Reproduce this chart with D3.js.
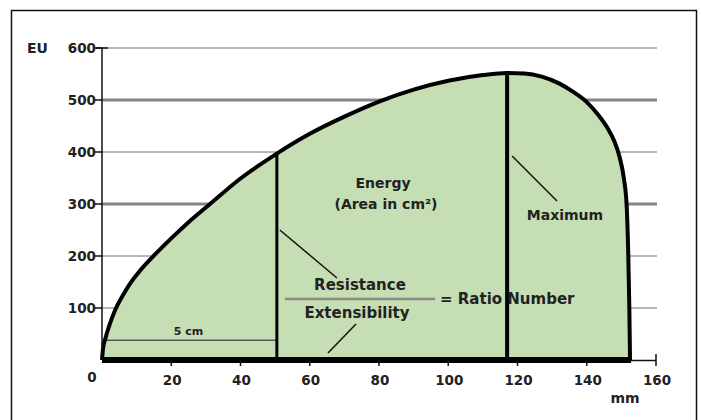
<!DOCTYPE html>
<html>
<head>
<meta charset="utf-8">
<script src="https://cdn.jsdelivr.net/npm/d3@7"></script>
<style>
  body { margin: 0; background: #fff; }
  svg text { font-family: "DejaVu Sans", "Liberation Sans", sans-serif; font-weight: bold; fill: #222; }
</style>
</head>
<body>
<div id="chart-container"></div>
<script>
// extensogram curve: extension (mm) vs resistance (EU)
var CURVE_MM = [0, 0.3, 1, 2, 3.8, 6, 8.1, 11, 15.3, 20, 25, 31.2, 40, 50.5, 60, 70, 80, 90, 100, 110, 117, 122, 127, 132, 136, 140, 143, 146, 148, 149.5, 150.7, 151.5, 152, 152.3, 152.5];
var CURVE_EU = [0, 22, 42, 64, 96, 124, 147, 172, 203, 234, 265, 300, 349, 397, 435, 468, 497, 520, 537, 548, 552, 551, 545, 532, 516, 496, 474, 446, 420, 390, 350, 300, 200, 100, 0];
// y axis ticks
var Y_TICKS = [0, 100, 200, 300, 400, 500, 600];
var Y_THICK = [500, 300];
// x axis ticks
var X_TICKS = [0, 20, 40, 60, 80, 100, 120, 140, 160];
// marker lines
var RESIST_MM = 50.5, RESIST_EU = 397;
var MAX_MM = 117, MAX_EU = 552;
var FIVE_CM_EU = 38;

function drawChart() {
    var svg = d3.select("#chart-container")
        .append("svg")
        .attr("width", 701)
        .attr("height", 420);

    // frame
    svg.append("rect")
        .attr("x", 11.5).attr("y", 10.5)
        .attr("width", 685).attr("height", 430)
        .attr("fill", "none").attr("stroke", "#111").attr("stroke-width", 1.5);

    var x = d3.scaleLinear().domain([0, 160]).range([102, 656]);
    var y = d3.scaleLinear().domain([0, 600]).range([360, 48]);

    // grid lines
    svg.append("g")
        .selectAll("line")
        .data(Y_TICKS.filter(function (d) { return d > 0; }))
        .enter()
        .append("line")
        .attr("x1", x(0)).attr("x2", 657)
        .attr("y1", function (d) { return y(d); })
        .attr("y2", function (d) { return y(d); })
        .attr("stroke", function (d) { return Y_THICK.indexOf(d) >= 0 ? "#8a8484" : "#a29e9e"; })
        .attr("stroke-width", function (d) { return Y_THICK.indexOf(d) >= 0 ? 3 : 1.5; });

    var pts = CURVE_MM.map(function (m, i) { return [m, CURVE_EU[i]]; });

    // filled area
    var area = d3.area()
        .x(function (d) { return x(d[0]); })
        .y0(y(0))
        .y1(function (d) { return y(d[1]); })
        .curve(d3.curveMonotoneX);
    svg.append("path")
        .datum(pts)
        .attr("d", area)
        .attr("fill", "#c6deb4");

    // 5 cm line
    svg.append("line")
        .attr("x1", x(1)).attr("x2", x(RESIST_MM))
        .attr("y1", y(FIVE_CM_EU)).attr("y2", y(FIVE_CM_EU))
        .attr("stroke", "#555").attr("stroke-width", 1.5);
    svg.append("text")
        .attr("x", x(25)).attr("y", y(FIVE_CM_EU) - 5)
        .attr("text-anchor", "middle").attr("font-size", "11px")
        .text("5 cm");

    // vertical marker lines
    svg.append("line")
        .attr("x1", x(RESIST_MM)).attr("x2", x(RESIST_MM))
        .attr("y1", y(0)).attr("y2", y(RESIST_EU))
        .attr("stroke", "#000").attr("stroke-width", 3);
    svg.append("line")
        .attr("x1", x(MAX_MM)).attr("x2", x(MAX_MM))
        .attr("y1", y(0)).attr("y2", y(MAX_EU))
        .attr("stroke", "#000").attr("stroke-width", 4);

    // curve outline
    var line = d3.line()
        .x(function (d) { return x(d[0]); })
        .y(function (d) { return y(d[1]); })
        .curve(d3.curveMonotoneX);
    svg.append("path")
        .datum(pts)
        .attr("d", line)
        .attr("fill", "none")
        .attr("stroke", "#000")
        .attr("stroke-width", 4)
        .attr("stroke-linejoin", "round");

    // y axis
    svg.append("line")
        .attr("x1", x(0)).attr("x2", x(0))
        .attr("y1", y(600)).attr("y2", y(0))
        .attr("stroke", "#111").attr("stroke-width", 1.5);
    svg.append("line")
        .attr("x1", x(0) - 6).attr("x2", x(0) + 6)
        .attr("y1", y(600)).attr("y2", y(600))
        .attr("stroke", "#111").attr("stroke-width", 1.5);
    svg.append("g").selectAll("line")
        .data(Y_TICKS.filter(function (d) { return d > 0; }))
        .enter().append("line")
        .attr("x1", x(0) - 7).attr("x2", x(0))
        .attr("y1", function (d) { return y(d); })
        .attr("y2", function (d) { return y(d); })
        .attr("stroke", "#111").attr("stroke-width", 1.5);
    svg.append("g").selectAll("text")
        .data(Y_TICKS.filter(function (d) { return d > 0; }))
        .enter().append("text")
        .attr("x", x(0) - 6)
        .attr("y", function (d) { return y(d) + 5; })
        .attr("text-anchor", "end").attr("font-size", "13.5px")
        .text(function (d) { return d; });
    svg.append("text")
        .attr("x", 27).attr("y", y(600) + 5)
        .attr("font-size", "14px").text("EU");

    // x axis
    svg.append("line")
        .attr("x1", x(0)).attr("x2", x(160))
        .attr("y1", y(0) + 0.5).attr("y2", y(0) + 0.5)
        .attr("stroke", "#111").attr("stroke-width", 1.5);
    svg.append("line")
        .attr("x1", x(0)).attr("x2", x(152.8))
        .attr("y1", y(0)).attr("y2", y(0))
        .attr("stroke", "#000").attr("stroke-width", 6);
    svg.append("line")
        .attr("x1", x(160)).attr("x2", x(160))
        .attr("y1", y(0) - 6).attr("y2", y(0) + 6)
        .attr("stroke", "#111").attr("stroke-width", 1.5);
    svg.append("g").selectAll("line")
        .data(X_TICKS.filter(function (d) { return d > 0 && d < 160; }))
        .enter().append("line")
        .attr("x1", function (d) { return x(d); })
        .attr("x2", function (d) { return x(d); })
        .attr("y1", y(0)).attr("y2", y(0) + 6)
        .attr("stroke", "#111").attr("stroke-width", 1.5);
    svg.append("g").selectAll("text")
        .data(X_TICKS)
        .enter().append("text")
        .attr("x", function (d) { return d === 0 ? x(0) - 10 : x(d) + 1; })
        .attr("y", function (d) { return d === 0 ? 382 : 385; })
        .attr("text-anchor", "middle").attr("font-size", "13.5px")
        .text(function (d) { return d; });
    svg.append("text")
        .attr("x", 625).attr("y", 403)
        .attr("text-anchor", "middle").attr("font-size", "14px")
        .text("mm");

    // annotations
    svg.append("text")
        .attr("x", 383).attr("y", 188)
        .attr("text-anchor", "middle").attr("font-size", "14px")
        .text("Energy");
    svg.append("text")
        .attr("x", 386).attr("y", 209)
        .attr("text-anchor", "middle").attr("font-size", "14px")
        .text("(Area in cm²)");

    svg.append("line")
        .attr("x1", x(MAX_MM) + 5).attr("y1", 156)
        .attr("x2", 557).attr("y2", 201)
        .attr("stroke", "#111").attr("stroke-width", 1.5);
    svg.append("text")
        .attr("x", 565).attr("y", 220)
        .attr("text-anchor", "middle").attr("font-size", "14px")
        .text("Maximum");

    svg.append("line")
        .attr("x1", x(RESIST_MM) + 3).attr("y1", 230)
        .attr("x2", 337).attr("y2", 278)
        .attr("stroke", "#111").attr("stroke-width", 1.5);
    svg.append("text")
        .attr("x", 360).attr("y", 290)
        .attr("text-anchor", "middle").attr("font-size", "15px")
        .text("Resistance");
    svg.append("line")
        .attr("x1", 285).attr("x2", 435)
        .attr("y1", 299).attr("y2", 299)
        .attr("stroke", "#8a8a80").attr("stroke-width", 2.5);
    svg.append("text")
        .attr("x", 357).attr("y", 318)
        .attr("text-anchor", "middle").attr("font-size", "15px")
        .text("Extensibility");
    svg.append("text")
        .attr("x", 440).attr("y", 304)
        .attr("font-size", "15px")
        .text("= Ratio Number");
    svg.append("line")
        .attr("x1", 356).attr("y1", 324)
        .attr("x2", 328).attr("y2", 353)
        .attr("stroke", "#111").attr("stroke-width", 1.5);
}

window.onload = function () {
    drawChart();
};
</script>
</body>
</html>
